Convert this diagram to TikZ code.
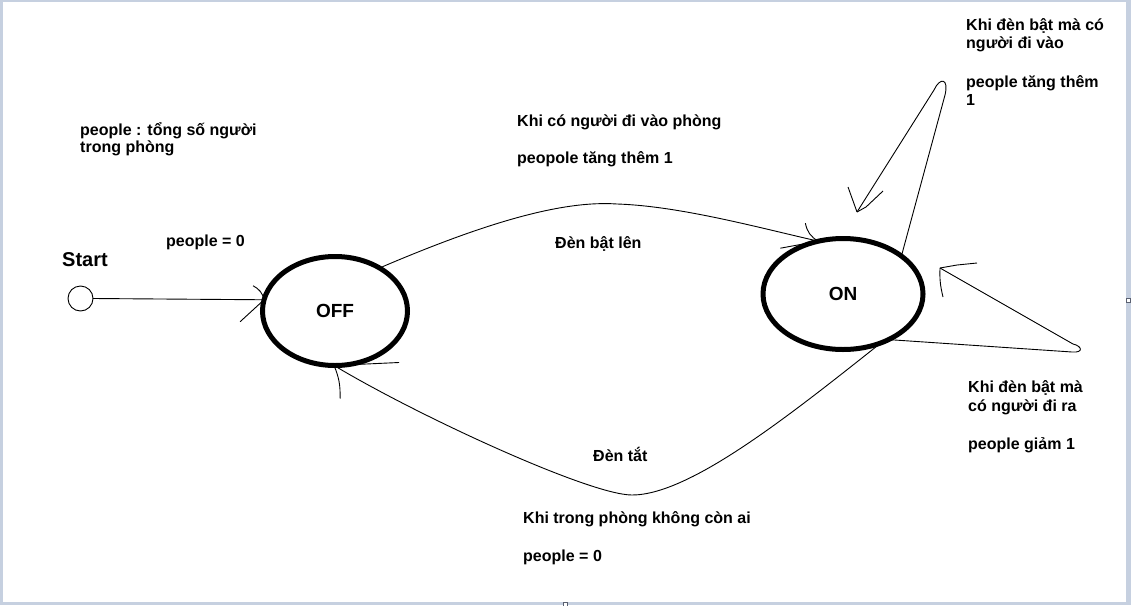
\documentclass[tikz,border=0pt]{standalone}
\usepackage{fontspec}
\setmainfont{Liberation Sans}
\usetikzlibrary{shapes.geometric}
\definecolor{paintgrey}{HTML}{C6D0E0}
\definecolor{handlegrey}{HTML}{5A6070}
\tikzset{
    state/.style={ellipse, draw, line width=5pt, inner sep=0pt, outer sep=0pt,
        font=\fontsize{19}{22}\selectfont\bfseries},
    lbl/.style={anchor=base west, inner sep=0pt, font=\fontsize{16}{18}\selectfont\bfseries},
    hand/.style={line width=0.9pt},
}
\begin{document}
\begin{tikzpicture}[x=1pt,y=-1pt]
    % canvas
    \fill[paintgrey] (0,0) rectangle (1131,605);
    \fill[white] (3,2) rectangle (1126,602);
    \useasboundingbox (0,0) rectangle (1131,605);
    \filldraw[fill=white, draw=handlegrey, line width=0.8pt] (1126,298) rectangle (1130,302);
    \filldraw[fill=white, draw=handlegrey, line width=0.8pt] (563,602) rectangle (567,606);

    % states
    \node[circle, draw, hand, minimum size=25pt, inner sep=0pt, outer sep=0pt] (start) at (80.5,298.5) {};
    \node[state, minimum width=145pt, minimum height=109pt] (off) at (335,311) {OFF};
    \node[state, minimum width=160pt, minimum height=111pt] (on) at (843,294) {ON};
    \coordinate (ontip) at (857,212);
    \coordinate (selftip) at (940,268);

    % start -> off
    \draw[hand] (start.east) -- (off.171);
    \draw[hand] (off.171) to[bend right=25] ++(-11,-14);
    \draw[hand] (off.171) -- ++(-24,22);

    % off -> on
    \draw[hand] (off.44) .. controls (480,225) and (560,200) .. (617,204)
        .. controls (680,206) and (760,228) .. (on.115);
    \draw[hand] (on.115) to[bend left=25] ++(-13,-18);
    \draw[hand] (on.115) -- ++(-38,7);

    % on -> on (top)
    \draw[hand] (on.33) -- (945,95) .. controls (949,78) and (940,77) .. (934,90) -- (ontip);
    \draw[hand] (ontip) -- ++(-9,-25);
    \draw[hand] (ontip) -- ++(9,-5) -- ++(17,-16);

    % on -> on (right)
    \draw[hand] (on.-45) -- (1072,352) .. controls (1084,353) and (1082,346) .. (1073,344) -- (selftip);
    \draw[hand] (selftip) -- ++(17,-3) -- ++(20,-2);
    \draw[hand] (selftip) to[bend right=8] ++(3,29);

    % on -> off
    \draw[hand] (on.-52) .. controls (790,415) and (690,495) .. (632,495)
        .. controls (590,495) and (420,417) .. (off.-91);
    \draw[hand] (off.-91) to[bend left=12] ++(6,33);
    \draw[hand] (off.-91) -- ++(65,-3);

    % labels
    \node[lbl] (note1) at (80,135) {people : tổng số người};
    \node[lbl] (note2) at (80,152.5) {trong phòng};
    \node[lbl] (init) at (166,246.5) {people = 0};
    \node[lbl, font=\fontsize{20}{22}\selectfont\bfseries] (startlbl) at (62,266.5) {Start};

    \node[lbl] (up1) at (517,126) {Khi có người đi vào phòng};
    \node[lbl] (up2) at (517,163) {peopole tăng thêm 1};
    \node[lbl] (up3) at (555,248) {Đèn bật lên};

    \node[lbl] (in1) at (966,30) {Khi đèn bật mà có};
    \node[lbl] (in2) at (966,48) {người đi vào};
    \node[lbl] (in3) at (966,87) {people tăng thêm};
    \node[lbl] (in4) at (966,105) {1};

    \node[lbl] (out1) at (968,392) {Khi đèn bật mà};
    \node[lbl] (out2) at (968,411) {có người đi ra};
    \node[lbl] (out3) at (968,449) {people giảm 1};

    \node[lbl] (down1) at (593,461) {Đèn tắt};
    \node[lbl] (down2) at (523,523) {Khi trong phòng không còn ai};
    \node[lbl] (down3) at (523,561) {people = 0};
\end{tikzpicture}
\end{document}
